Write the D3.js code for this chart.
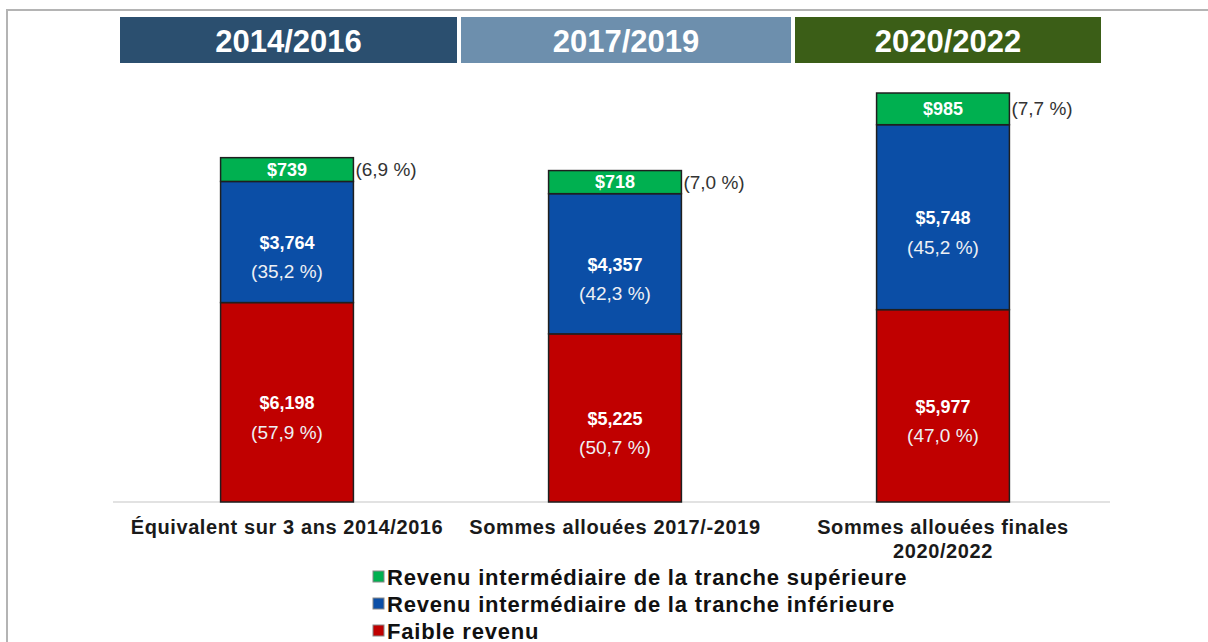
<!DOCTYPE html>
<html>
<head>
	<meta charset="utf-8">
	<script src="https://cdn.jsdelivr.net/npm/d3@7"></script>
	<style>
		body { margin: 0; background: #fff; }
		text { font-family: "Liberation Sans", Arial, sans-serif; }
	</style>
</head>
<body>
	<div id="chart"></div>
	<script type="text/javascript">
		// periodes en haut
		let periods = ["2014/2016", "2017/2019", "2020/2022"];
		let periodColors = ["#2b4f6f", "#6d8fad", "#3b5e17"];

		// categories (lignes de texte sous chaque barre)
		let categories = [
			["Équivalent sur 3 ans 2014/2016"],
			["Sommes allouées 2017/-2019"],
			["Sommes allouées finales", "2020/2022"]
		];

		// valeurs par serie
		let lowIncome = [6198, 5225, 5977];
		let lowerMiddle = [3764, 4357, 5748];
		let upperMiddle = [739, 718, 985];

		let lowPct = ["(57,9 %)", "(50,7 %)", "(47,0 %)"];
		let lowerPct = ["(35,2 %)", "(42,3 %)", "(45,2 %)"];
		let upperPct = ["(6,9 %)", "(7,0 %)", "(7,7 %)"];

		let seriesNames = [
			"Revenu intermédiaire de la tranche supérieure",
			"Revenu intermédiaire de la tranche inférieure",
			"Faible revenu"
		];
		let seriesColors = ["#00b050", "#0b4ea6", "#c00000"];

		let width = 1208, height = 642;
		let svg = d3.select("#chart").append("svg")
			.attr("width", width)
			.attr("height", height);

		// cadre gris
		svg.append("path")
			.attr("d", "M7," + height + "V10H" + width)
			.attr("fill", "none")
			.attr("stroke", "#b4b4b4")
			.attr("stroke-width", 2);

		// bandeaux des periodes (bords gauche/droit)
		let headEdges = [[120, 457], [461, 791], [795, 1101]];
		let heads = svg.selectAll(".head").data(periods).enter().append("g");
		heads.append("rect")
			.attr("x", (d, i) => headEdges[i][0])
			.attr("y", 17)
			.attr("width", (d, i) => headEdges[i][1] - headEdges[i][0])
			.attr("height", 46)
			.attr("fill", (d, i) => periodColors[i]);
		heads.append("text")
			.attr("x", (d, i) => (headEdges[i][0] + headEdges[i][1]) / 2)
			.attr("y", 41)
			.attr("text-anchor", "middle")
			.attr("dominant-baseline", "central")
			.attr("fill", "#fff")
			.attr("font-weight", "bold")
			.attr("font-size", 31)
			.text(d => d);

		let idx = [0, 1, 2];
		let x = d3.scaleBand().domain(idx).range([123, 1107]).paddingInner(0.595).paddingOuter(0.2975);
		let y = d3.scaleLinear().domain([0, 14000]).range([502, 51.5]);

		// axe horizontal
		svg.append("line")
			.attr("x1", 113).attr("x2", 1110)
			.attr("y1", y(0)).attr("y2", y(0))
			.attr("stroke", "#d9d9d9")
			.attr("stroke-width", 1.5);

		// empilement
		let rows = idx.map(i => ({ i: i, low: lowIncome[i], lower: lowerMiddle[i], upper: upperMiddle[i] }));
		let stack = d3.stack().keys(["low", "lower", "upper"])(rows);
		let keyColor = { low: seriesColors[2], lower: seriesColors[1], upper: seriesColors[0] };
		let keyPct = { low: lowPct, lower: lowerPct, upper: upperPct };

		stack.forEach(function (layer) {
			let g = svg.append("g");
			let top = layer.key == "upper";
			g.selectAll("rect").data(layer).enter().append("rect")
				.attr("x", d => x(d.data.i))
				.attr("y", d => y(d[1]))
				.attr("width", x.bandwidth())
				.attr("height", d => y(d[0]) - y(d[1]))
				.attr("fill", keyColor[layer.key])
				.attr("stroke", "#1f1f1f")
				.attr("stroke-width", 1.5);

			// montant
			g.selectAll(".val").data(layer).enter().append("text")
				.attr("x", d => x(d.data.i) + x.bandwidth() / 2)
				.attr("y", d => (y(d[0]) + y(d[1])) / 2 + (top ? 0 : 1))
				.attr("text-anchor", "middle")
				.attr("dominant-baseline", "central")
				.attr("fill", "#fff")
				.attr("font-weight", "bold")
				.attr("font-size", 18)
				.text(d => "$" + d3.format(",")(d.data[layer.key]));

			// pourcentage
			g.selectAll(".pct").data(layer).enter().append("text")
				.attr("x", d => top ? x(d.data.i) + x.bandwidth() + 2 : x(d.data.i) + x.bandwidth() / 2)
				.attr("y", d => (y(d[0]) + y(d[1])) / 2 + (top ? 0 : 30))
				.attr("text-anchor", top ? "start" : "middle")
				.attr("dominant-baseline", "central")
				.attr("fill", top ? "#333" : "#eef0f4")
				.attr("font-size", 19)
				.text(d => keyPct[layer.key][d.data.i]);
		});

		// libelles des categories
		let cat = svg.selectAll(".cat").data(categories).enter().append("text")
			.attr("x", (d, i) => x(i) + x.bandwidth() / 2)
			.attr("y", 534)
			.attr("text-anchor", "middle")
			.attr("fill", "#1a1a1a")
			.attr("font-weight", "bold")
			.attr("font-size", 20)
			.attr("letter-spacing", 0.6);
		cat.selectAll("tspan").data(d => d).enter().append("tspan")
			.attr("x", function () { return d3.select(this.parentNode).attr("x"); })
			.attr("dy", (d, j) => j == 0 ? 0 : 24)
			.text(d => d);

		// legende
		let leg = svg.selectAll(".leg").data(seriesNames).enter().append("g")
			.attr("transform", (d, i) => "translate(373," + (577 + i * 27) + ")");
		leg.append("rect")
			.attr("x", 0).attr("y", -6)
			.attr("width", 11).attr("height", 11)
			.attr("fill", (d, i) => seriesColors[i])
			.attr("stroke", "#888")
			.attr("stroke-width", 1);
		leg.append("text")
			.attr("x", 14)
			.attr("y", 0)
			.attr("dominant-baseline", "central")
			.attr("fill", "#111")
			.attr("font-weight", "bold")
			.attr("font-size", 22)
			.attr("letter-spacing", 0.8)
			.text(d => d);
	</script>
</body>
</html>
